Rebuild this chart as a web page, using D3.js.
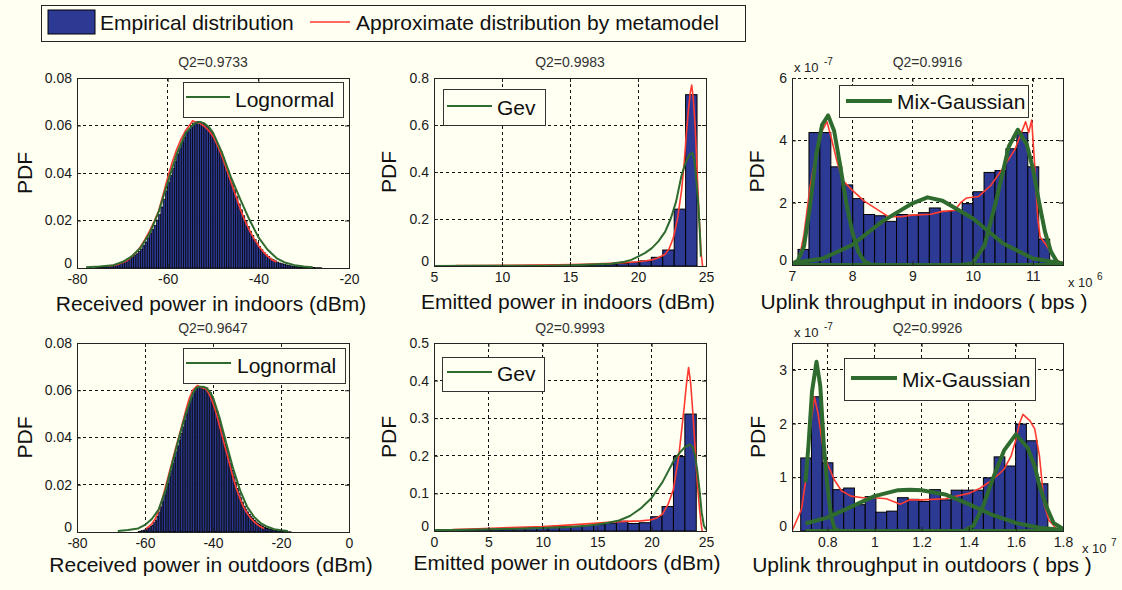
<!DOCTYPE html>
<html><head><meta charset="utf-8">
<script src="https://cdn.jsdelivr.net/npm/d3@7"></script>
<style>
html,body{margin:0;padding:0;background:#fffff2;}
svg{display:block;font-family:"Liberation Sans",Arial,sans-serif;}
</style></head><body>
<svg id="chart" width="1122" height="590"></svg>
<script>
// ---------------- DATA ----------------
const legendLabels = ["Empirical distribution", "Approximate distribution by metamodel"];
const panelTitles = ["Q2=0.9733", "Q2=0.9983", "Q2=0.9916", "Q2=0.9647", "Q2=0.9993", "Q2=0.9926"];
const xAxisLabels = ["Received power in indoors (dBm)", "Emitted power in indoors (dBm)", "Uplink throughput in indoors ( bps )",
                     "Received power in outdoors (dBm)", "Emitted power in outdoors (dBm)", "Uplink throughput in outdoors ( bps )"];
const fitNames = ["Lognormal", "Gev", "Mix-Gaussian", "Lognormal", "Gev", "Mix-Gaussian"];

// Panel 1: received power indoors
const recvInXTicks = [-80, -60, -40, -20];
const recvInYTicks = [0, 0.02, 0.04, 0.06, 0.08];
const recvInBinStart = -76, recvInBinWidth = 0.5;
const recvInHist = [.0002,.0002,.0003,.0004,.0005,.0006,.0007,.0008,.001,.0013,
 .0016,.002,.0025,.003,.0034,.004,.0045,.0052,.006,.007,
 .008,.0095,.011,.0127,.0145,.0162,.018,.0202,.0225,.0257,
 .029,.0325,.036,.039,.042,.045,.048,.0505,.053,.055,
 .057,.0585,.060,.061,.0615,.0617,.0615,.061,.0605,.0595,
 .0585,.057,.055,.053,.051,.049,.0465,.044,.041,.038,
 .0355,.033,.030,.027,.0245,.022,.0195,.0175,.0155,.0137,
 .012,.0105,.009,.0077,.0065,.0056,.0048,.0041,.0035,.003,
 .0025,.0021,.0018,.0015,.0013,.0011,.0009,.0007,.0006,.0005,
 .0004,.0004,.0003,.0003,.0002,.0002,.0002,.0001,.0001,.0001];
const recvInMetaX = [-73,-71,-69,-67,-66,-65,-64,-63,-62,-61,-60,-59,-58,-57,-56,-55,-54.5,-54,-53,-52,-51,-50,-49,-48,-47,-46,-45,-44,-43,-42,-41,-40,-39,-38,-37,-36];
const recvInMetaY = [0.0008,0.0015,0.003,0.0065,0.009,0.012,0.0155,0.0195,0.024,0.031,0.038,0.0445,0.050,0.0545,0.058,0.0605,0.062,0.0615,0.061,0.0598,0.058,0.0555,0.0515,0.047,0.0415,0.036,0.0305,0.025,0.020,0.016,0.0125,0.0095,0.007,0.005,0.0035,0.0025];
const recvInFitX = [-78,-75,-72,-70,-68,-66,-64,-62,-60,-58,-56,-54,-53,-52,-51,-50,-48,-46,-44,-42,-40,-38,-36,-34,-32,-30,-28];
const recvInFitY = [0.0003,0.0006,0.0012,0.0025,0.0048,0.0085,0.0145,0.0235,0.036,0.048,0.057,0.061,0.0615,0.061,0.0595,0.057,0.0485,0.038,0.029,0.0205,0.013,0.0078,0.0042,0.0022,0.0012,0.0006,0.0003];

// Panel 2: emitted power indoors
const emitInXTicks = [5, 10, 15, 20, 25];
const emitInYTicks = [0, 0.2, 0.4, 0.6, 0.8];
const emitInBinStart = 5.02, emitInBinWidth = 0.84;
const emitInHist = [0.0005,0.0008,0.001,0.001,0.0012,0.0015,0.0018,0.002,0.0022,0.0025,0.003,0.0035,0.004,0.005,0.0065,0.008,0.011,0.016,0.022,0.037,0.068,0.242,0.729];
const emitInMetaX = [6.6,8,10,12,14,15,16,17,18,19,20,20.5,21,21.5,22,22.3,22.6,22.9,23.2,23.4,23.55,23.7,23.85,23.95,24.05,24.2,24.35,24.5,24.65,24.75];
const emitInMetaY = [0.002,0.002,0.003,0.004,0.005,0.006,0.007,0.009,0.011,0.014,0.018,0.021,0.026,0.035,0.05,0.075,0.12,0.2,0.32,0.44,0.56,0.66,0.74,0.77,0.72,0.6,0.4,0.2,0.05,0.0];
const emitInFitX = [5,8,11,13,15,16,17,18,19,19.5,20,20.5,21,21.5,22,22.4,22.8,23.2,23.5,23.8,24.0,24.15,24.3,24.45,24.55,24.62];
const emitInFitY = [0.0005,0.0008,0.001,0.0015,0.003,0.005,0.007,0.01,0.018,0.026,0.04,0.055,0.075,0.105,0.146,0.2,0.274,0.385,0.44,0.475,0.48,0.45,0.36,0.25,0.14,0.04];

// Panel 3: uplink throughput indoors (x in 1e6 bps, y in 1e-7)
const upInXTicks = [7, 8, 9, 10, 11];
const upInYTicks = [0, 2, 4, 6];
const upInBinStart = 7.10, upInBinWidth = 0.1817;
const upInHist = [0.5,4.25,4.25,3.15,2.57,2.13,1.62,1.58,1.4,1.62,1.6,1.68,1.83,1.72,1.75,1.97,2.35,2.97,3.03,3.73,4.25,3.15,0.83];
const upInMetaX = [7.1,7.2,7.3,7.4,7.5,7.58,7.65,7.75,7.85,8.0,8.2,8.4,8.6,8.8,9.0,9.3,9.5,9.7,9.8,9.9,10.1,10.3,10.5,10.7,10.8,10.88,10.93,10.98,11.03,11.08,11.12,11.2,11.3,11.4,11.5];
const upInMetaY = [0.0,1.0,2.5,3.6,4.3,4.6,4.1,3.3,2.7,2.4,2.05,1.8,1.55,1.55,1.6,1.63,1.72,1.75,2.0,2.15,2.2,2.55,3.1,3.7,4.2,4.6,4.25,4.65,3.2,1.5,0.9,0.7,0.4,0.15,0.05];
const upInG1X = [7.0,7.1,7.2,7.3,7.4,7.5,7.6,7.7,7.8,7.9,8.0,8.1,8.2,8.3,8.5,11.5];
const upInG1Y = [0.02,0.15,0.6,1.9,3.5,4.5,4.8,4.3,3.2,2.0,1.07,0.43,0.12,0.02,0.0,0.0];
const upInG2X = [7.0,7.5,8.0,8.5,9.0,9.25,9.5,10.0,10.5,11.0,11.5];
const upInG2Y = [0.06,0.2,0.64,1.4,1.98,2.17,2.06,1.5,0.7,0.21,0.05];
const upInG3X = [7.0,9.8,10.0,10.2,10.4,10.6,10.75,10.9,11.0,11.1,11.2,11.3,11.4,11.5];
const upInG3Y = [0.0,0.0,0.05,0.64,2.14,3.8,4.34,3.86,3.1,2.04,1.07,0.43,0.1,0.02];

// Panel 4: received power outdoors
const recvOutXTicks = [-80, -60, -40, -20, 0];
const recvOutYTicks = [0, 0.02, 0.04, 0.06, 0.08];
const recvOutBinStart = -62, recvOutBinWidth = 0.5;
const recvOutHist = [.0003,.0004,.0006,.0008,.001,.0014,.0018,.0024,.003,.004,
 .005,.0067,.0085,.0107,.013,.0155,.018,.0207,.0235,.0262,
 .029,.0315,.034,.0365,.039,.0417,.0445,.0472,.050,.0527,
 .0555,.0572,.059,.060,.061,.0613,.0615,.0616,.0615,.0613,
 .061,.060,.059,.0572,.0555,.0532,.051,.0482,.0455,.0427,
 .040,.0372,.0345,.0317,.029,.0262,.0235,.021,.0185,.0165,
 .0145,.0127,.011,.0097,.0085,.0075,.0065,.0057,.005,.0043,
 .0037,.0032,.0027,.0023,.002,.0017,.0014,.0012,.001,.0008,
 .0007,.0006,.0005,.0004,.0003,.0003,.0002,.0002,.0001,.0001];
const recvOutMetaX = [-60,-58,-57,-56,-55,-54,-53,-52,-51,-50,-49,-48,-47,-46,-45,-44.5,-44,-43,-42,-41,-40,-39,-38,-37,-36,-35,-34,-33,-32,-31,-30,-29,-28,-27,-26,-25];
const recvOutMetaY = [0.001,0.0035,0.0055,0.009,0.0135,0.019,0.0245,0.030,0.0355,0.0405,0.046,0.0515,0.0565,0.060,0.0615,0.062,0.0615,0.061,0.0605,0.058,0.0545,0.050,0.0445,0.039,0.0335,0.028,0.0225,0.0178,0.014,0.0105,0.008,0.006,0.0045,0.0032,0.0022,0.0015];
const recvOutFitX = [-68,-65,-62,-60,-58,-56,-54,-52,-50,-48,-46,-45,-44,-43,-42,-41,-40,-38,-36,-34,-32,-30,-28,-26,-24,-22,-20,-18];
const recvOutFitY = [0.0004,0.0008,0.0015,0.003,0.0055,0.0095,0.0175,0.029,0.040,0.050,0.0585,0.061,0.0615,0.0615,0.061,0.0595,0.057,0.048,0.037,0.0265,0.0175,0.0108,0.0065,0.0038,0.0022,0.0012,0.0007,0.0004];

// Panel 5: emitted power outdoors
const emitOutXTicks = [0, 5, 10, 15, 20, 25];
const emitOutYTicks = [0, 0.1, 0.2, 0.3, 0.4, 0.5];
const emitOutBinStart = 0.0, emitOutBinWidth = 1.048;
const emitOutHist = [0.003,0.003,0.004,0.004,0.005,0.005,0.006,0.008,0.009,0.010,0.011,0.013,0.012,0.015,0.017,0.021,0.026,0.020,0.022,0.038,0.065,0.198,0.311];
const emitOutMetaX = [1.7,4,7,10,13,15,17,19,20,20.5,21,21.5,22,22.5,23,23.2,23.4,23.6,23.8,24.0,24.2,24.4,24.55,24.65];
const emitOutMetaY = [0.004,0.006,0.009,0.012,0.017,0.021,0.025,0.027,0.03,0.035,0.045,0.07,0.11,0.2,0.33,0.39,0.435,0.39,0.31,0.22,0.13,0.06,0.02,0.0];
const emitOutFitX = [0,3,6,9,12,14,15,16,17,18,19,20,21,22,22.5,23,23.5,23.8,24.0,24.2,24.4,24.6,24.8,25];
const emitOutFitY = [0.002,0.003,0.005,0.007,0.01,0.014,0.017,0.022,0.028,0.04,0.06,0.088,0.13,0.185,0.205,0.222,0.23,0.222,0.2,0.16,0.11,0.05,0.015,0.004];

// Panel 6: uplink throughput outdoors (x in 1e7 bps, y in 1e-7)
const upOutXTicks = [0.8, 1, 1.2, 1.4, 1.6, 1.8];
const upOutYTicks = [0, 1, 2, 3];
const upOutBinStart = 0.687, upOutBinWidth = 0.0456;
const upOutHist = [1.36,2.5,1.27,0.77,0.8,0.49,0.64,0.35,0.37,0.62,0.59,0.55,0.77,0.58,0.76,0.76,0.76,0.99,1.38,1.21,1.99,1.68,0.88];
const upOutMetaX = [0.65,0.69,0.71,0.73,0.745,0.76,0.78,0.8,0.83,0.86,0.9,0.95,1.0,1.05,1.08,1.11,1.15,1.2,1.3,1.35,1.4,1.45,1.5,1.55,1.58,1.6,1.615,1.63,1.66,1.68,1.7,1.72,1.74,1.77,1.78];
const upOutMetaY = [0.0,0.4,1.0,2.0,2.5,2.2,1.6,1.25,0.95,0.75,0.65,0.62,0.62,0.6,0.55,0.5,0.58,0.58,0.6,0.65,0.7,0.8,0.95,1.15,1.4,1.7,2.0,2.17,2.05,1.9,1.4,0.5,0.2,0.05,0.0];
const upOutG1X = [0.707,0.72,0.735,0.754,0.77,0.785,0.8,0.815,0.83,0.85,1.8];
const upOutG1Y = [0.9,1.6,2.6,3.15,2.7,1.6,0.85,0.3,0.05,0.0,0.0];
const upOutG2X = [0.707,0.8,0.9,1.0,1.1,1.15,1.2,1.3,1.4,1.5,1.6,1.7,1.8];
const upOutG2Y = [0.14,0.25,0.45,0.65,0.76,0.77,0.76,0.68,0.5,0.3,0.15,0.06,0.02];
const upOutG3X = [0.707,1.38,1.42,1.46,1.5,1.55,1.6,1.65,1.68,1.7,1.73,1.76,1.8];
const upOutG3Y = [0.0,0.0,0.1,0.45,0.95,1.5,1.8,1.55,1.2,0.85,0.45,0.15,0.04];

// ---------------- STYLE ----------------
const BG = "#fffff2", BAR = "#2c3a94", RED = "#ff3a30", GREEN = "#2f6b2f";
const zip = (a, b) => a.map((v, i) => [v, b[i]]);

const panels = [
  {left:77, right:349, top:78, bottom:268, xDomain:[-80,-20], yDomain:[0,0.08], xTicks:recvInXTicks, yTicks:recvInYTicks,
   binStart:recvInBinStart, binWidth:recvInBinWidth, hist:recvInHist, barStroke:0.7,
   red:zip(recvInMetaX, recvInMetaY), greens:[zip(recvInFitX, recvInFitY)], greenW:2,
   title:panelTitles[0], titleY:67, xlabel:xAxisLabels[0], xlabelX:211, xlabelY:311, pdfX:24,
   leg:{x0:183,x1:343,y0:82,y1:117,lx0:186,lx1:230,ly:97,tx:235,ty:107,lw:2,name:fitNames[0]}},
  {left:434, right:706, top:78, bottom:266, xDomain:[5,25], yDomain:[0,0.8], xTicks:emitInXTicks, yTicks:emitInYTicks,
   binStart:emitInBinStart, binWidth:emitInBinWidth, hist:emitInHist, barStroke:1,
   red:zip(emitInMetaX, emitInMetaY), greens:[zip(emitInFitX, emitInFitY)], greenW:2,
   title:panelTitles[1], titleY:67, xlabel:xAxisLabels[1], xlabelX:568, xlabelY:309, pdfX:388,
   leg:{x0:443,x1:545,y0:89,y1:125,lx0:447,lx1:492,ly:106,tx:497,ty:115,lw:2,name:fitNames[1]}},
  {left:792, right:1063, top:78, bottom:265, xDomain:[7,11.5], yDomain:[0,6], xTicks:upInXTicks, yTicks:upInYTicks,
   binStart:upInBinStart, binWidth:upInBinWidth, hist:upInHist, barStroke:1, dashedTop:true,
   red:zip(upInMetaX, upInMetaY), greens:[zip(upInG1X, upInG1Y), zip(upInG2X, upInG2Y), zip(upInG3X, upInG3Y)], greenW:4,
   title:panelTitles[2], titleY:67, xlabel:xAxisLabels[2], xlabelX:924, xlabelY:309, pdfX:756,
   yExp:"-7", xExp:"6", xExpX:1068, xExpY:287,
   leg:{x0:839,x1:1028,y0:85,y1:117,lx0:846,lx1:892,ly:101,tx:897,ty:109,lw:4,name:fitNames[2]}},
  {left:77, right:349, top:343, bottom:532, xDomain:[-80,0], yDomain:[0,0.08], xTicks:recvOutXTicks, yTicks:recvOutYTicks,
   binStart:recvOutBinStart, binWidth:recvOutBinWidth, hist:recvOutHist, barStroke:0.6,
   red:zip(recvOutMetaX, recvOutMetaY), greens:[zip(recvOutFitX, recvOutFitY)], greenW:2,
   title:panelTitles[3], titleY:333, xlabel:xAxisLabels[3], xlabelX:211, xlabelY:572, pdfX:24,
   leg:{x0:183,x1:345,y0:348,y1:383,lx0:186,lx1:231,ly:363,tx:237,ty:373,lw:2,name:fitNames[3]}},
  {left:434, right:706, top:343, bottom:531, xDomain:[0,25], yDomain:[0,0.5], xTicks:emitOutXTicks, yTicks:emitOutYTicks,
   binStart:emitOutBinStart, binWidth:emitOutBinWidth, hist:emitOutHist, barStroke:1,
   red:zip(emitOutMetaX, emitOutMetaY), greens:[zip(emitOutFitX, emitOutFitY)], greenW:2,
   title:panelTitles[4], titleY:333, xlabel:xAxisLabels[4], xlabelX:567, xlabelY:570, pdfX:388,
   leg:{x0:442,x1:544,y0:357,y1:391,lx0:447,lx1:492,ly:372,tx:497,ty:381,lw:2,name:fitNames[4]}},
  {left:792, right:1063, top:343, bottom:531, xDomain:[0.65,1.8], yDomain:[0,3.5], xTicks:upOutXTicks, yTicks:upOutYTicks,
   binStart:upOutBinStart, binWidth:upOutBinWidth, hist:upOutHist, barStroke:1,
   red:zip(upOutMetaX, upOutMetaY), greens:[zip(upOutG1X, upOutG1Y), zip(upOutG2X, upOutG2Y), zip(upOutG3X, upOutG3Y)], greenW:4,
   title:panelTitles[5], titleY:333, xlabel:xAxisLabels[5], xlabelX:922, xlabelY:572, pdfX:757,
   yExp:"-7", xExp:"7", xExpX:1082, xExpY:553,
   leg:{x0:844,x1:1035,y0:358,y1:400,lx0:851,lx1:897,ly:378,tx:902,ty:387,lw:4,name:fitNames[5]}}
];

const svg = d3.select("#chart");
svg.append("rect").attr("width",1122).attr("height",590).attr("fill",BG);
const defs = svg.append("defs");
const tickFmt = d => String(d);

panels.forEach((p, idx) => {
  const x = d3.scaleLinear().domain(p.xDomain).range([p.left, p.right]);
  const y = d3.scaleLinear().domain(p.yDomain).range([p.bottom, p.top]);
  const cid = "clip" + idx;
  defs.append("clipPath").attr("id", cid).append("rect")
    .attr("x", p.left).attr("y", p.top).attr("width", p.right - p.left).attr("height", p.bottom - p.top);
  const g = svg.append("g");

  // grid
  const grid = g.append("g").attr("stroke","#111").attr("stroke-width",1).attr("stroke-dasharray","3,3").attr("shape-rendering","crispEdges");
  grid.selectAll("line.v").data(p.xTicks.filter(t => t > p.xDomain[0] && t < p.xDomain[1])).join("line").attr("class","v")
    .attr("x1", d => x(d)).attr("x2", d => x(d)).attr("y1", p.top).attr("y2", p.bottom);
  grid.selectAll("line.h").data(p.yTicks.filter(t => t > p.yDomain[0] && (t < p.yDomain[1] || p.dashedTop))).join("line").attr("class","h")
    .attr("y1", d => y(d)).attr("y2", d => y(d)).attr("x1", p.left).attr("x2", p.right);

  // histogram bars
  const bins = p.hist.map((v, i) => ({x0: p.binStart + i * p.binWidth, x1: p.binStart + (i + 1) * p.binWidth, v}));
  g.append("g").attr("clip-path", `url(#${cid})`).selectAll("rect").data(bins).join("rect")
    .attr("x", d => x(d.x0)).attr("width", d => x(d.x1) - x(d.x0))
    .attr("y", d => y(d.v)).attr("height", d => y(0) - y(d.v))
    .attr("fill", BAR).attr("stroke", "#000").attr("stroke-width", p.barStroke);

  const line = d3.line().x(d => x(d[0])).y(d => y(d[1]));
  const lines = g.append("g").attr("clip-path", `url(#${cid})`).attr("fill","none");
  lines.append("path").attr("d", line(p.red)).attr("stroke", RED).attr("stroke-width", 1.6).attr("stroke-linejoin","round");
  p.greens.forEach(gd => {
    lines.append("path").attr("d", line(gd)).attr("stroke", GREEN).attr("stroke-width", p.greenW).attr("stroke-linejoin","round");
  });

  // box
  const bx = g.append("g").attr("stroke","#222").attr("stroke-width",1).attr("fill","none").attr("shape-rendering","crispEdges");
  if (p.dashedTop) {
    bx.append("path").attr("d", `M${p.left},${p.top}V${p.bottom}H${p.right}V${p.top}`);
  } else {
    bx.append("rect").attr("x", p.left).attr("y", p.top).attr("width", p.right - p.left).attr("height", p.bottom - p.top);
  }

  // axes
  const style = sel => {
    sel.select(".domain").remove();
    sel.selectAll("line").attr("stroke","#222");
    sel.selectAll("text").attr("font-size", 14).attr("fill","#1a1a1a").attr("font-family","Liberation Sans, Arial, sans-serif");
  };
  g.append("g").attr("transform", `translate(0,${p.bottom})`)
    .call(d3.axisBottom(x).tickValues(p.xTicks).tickSize(-4).tickPadding(6).tickFormat(tickFmt)).call(style);
  g.append("g").attr("transform", `translate(0,${p.top})`)
    .call(d3.axisTop(x).tickValues(p.xTicks).tickSize(-4).tickFormat("")).call(style);
  const yAx = g.append("g").attr("transform", `translate(${p.left},0)`)
    .call(d3.axisLeft(y).tickValues(p.yTicks).tickSize(-4).tickPadding(5).tickFormat(tickFmt)).call(style);
  yAx.selectAll(".tick text").filter(d => d === 0).attr("y", -5);
  g.append("g").attr("transform", `translate(${p.right},0)`)
    .call(d3.axisRight(y).tickValues(p.yTicks).tickSize(-4).tickFormat("")).call(style);

  // title
  g.append("text").attr("x", (p.left + p.right) / 2).attr("y", p.titleY).attr("text-anchor","middle")
    .attr("font-size", 14).attr("fill","#333").text(p.title);
  // x label
  g.append("text").attr("x", p.xlabelX).attr("y", p.xlabelY).attr("text-anchor","middle")
    .attr("font-size", 21).attr("fill","#111").text(p.xlabel);
  // y label
  g.append("text").attr("transform", `translate(${p.pdfX},${(p.top + p.bottom) / 2}) rotate(-90)`)
    .attr("text-anchor","middle").attr("dy","0.36em").attr("font-size", 21).attr("fill","#111").text("PDF");

  // exponent labels
  if (p.yExp) {
    g.append("text").attr("x", p.left + 2).attr("y", p.top - 6).attr("font-size", 13).attr("fill","#222").text("x 10");
    g.append("text").attr("x", p.left + 32).attr("y", p.top - 13).attr("font-size", 10).attr("fill","#222").text(p.yExp);
    g.append("text").attr("x", p.xExpX).attr("y", p.xExpY).attr("font-size", 13).attr("fill","#222").text("x 10");
    g.append("text").attr("x", p.xExpX + 29).attr("y", p.xExpY - 7).attr("font-size", 10).attr("fill","#222").text(p.xExp);
  }

  // in-panel legend
  const L = p.leg;
  g.append("rect").attr("x", L.x0).attr("y", L.y0).attr("width", L.x1 - L.x0).attr("height", L.y1 - L.y0)
    .attr("fill", BG).attr("stroke","#333").attr("stroke-width",1).attr("shape-rendering","crispEdges");
  g.append("line").attr("x1", L.lx0).attr("x2", L.lx1).attr("y1", L.ly).attr("y2", L.ly)
    .attr("stroke", GREEN).attr("stroke-width", L.lw);
  g.append("text").attr("x", L.tx).attr("y", L.ty).attr("font-size", 21).attr("fill","#111").text(L.name);
});

// top legend
const topLeg = svg.append("g");
topLeg.append("rect").attr("x", 41).attr("y", 5).attr("width", 704).attr("height", 36)
  .attr("fill", BG).attr("stroke","#222").attr("stroke-width",1).attr("shape-rendering","crispEdges");
topLeg.append("rect").attr("x", 48).attr("y", 10).attr("width", 47).attr("height", 24)
  .attr("fill", BAR).attr("stroke","#000").attr("stroke-width",1);
topLeg.append("text").attr("x", 100).attr("y", 30).attr("font-size", 21).attr("fill","#111").text(legendLabels[0]);
topLeg.append("line").attr("x1", 310).attr("x2", 350).attr("y1", 22).attr("y2", 22).attr("stroke", RED).attr("stroke-width", 1.6);
topLeg.append("text").attr("x", 356).attr("y", 30).attr("font-size", 21).attr("fill","#111").text(legendLabels[1]);
</script>
</body></html>
